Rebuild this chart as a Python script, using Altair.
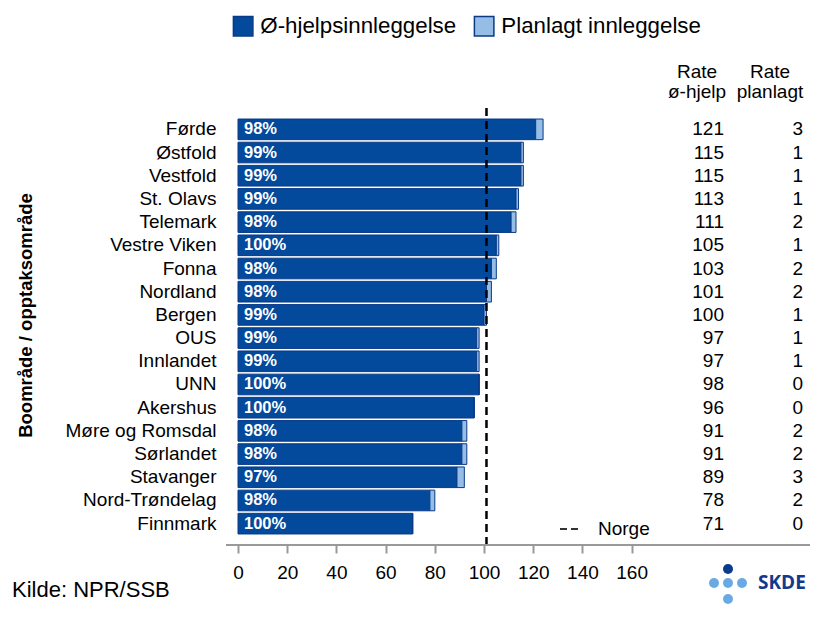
import altair as alt
import pandas as pd

# ---- data ----
areas = ["Førde", "Østfold", "Vestfold", "St. Olavs", "Telemark", "Vestre Viken",
         "Fonna", "Nordland", "Bergen", "OUS", "Innlandet", "UNN", "Akershus",
         "Møre og Romsdal", "Sørlandet", "Stavanger", "Nord-Trøndelag", "Finnmark"]
rate_akutt = [121, 115, 115, 113, 111, 105, 103, 101, 100, 97, 97, 98, 96, 91, 91, 89, 78, 71]
rate_plan = [3, 1, 1, 1, 2, 1, 2, 2, 1, 1, 1, 0, 0, 2, 2, 3, 2, 0]
andel = ["98%", "99%", "99%", "99%", "98%", "100%", "98%", "98%", "99%", "99%",
         "99%", "100%", "100%", "98%", "98%", "97%", "98%", "100%"]
norge = 101
types = ["Ø-hjelpsinnleggelse", "Planlagt innleggelse"]
tick_values = [0, 20, 40, 60, 80, 100, 120, 140, 160]

DARK = "#03499c"
LIGHT = "#95bde6"
EDGE = "#0a3a86"
FONT = "Liberation Sans"

wide = pd.DataFrame({"area": areas, "akutt": rate_akutt, "plan": rate_plan, "andel": andel})
long = pd.concat([
    pd.DataFrame({"area": areas, "type": types[0], "value": rate_akutt, "ord": 0}),
    pd.DataFrame({"area": areas, "type": types[1], "value": rate_plan, "ord": 1}),
], ignore_index=True)

W, H = 572, 437

yenc = alt.Y("area:N", sort=areas,
             scale=alt.Scale(paddingInner=0.11, paddingOuter=0.475),
             axis=alt.Axis(title="Boområde / opptaksområde", titleFont=FONT,
                           titleFontSize=18.5, titleFontWeight="bold", titleColor="black",
                           titleAngle=270, titleX=-213, titleY=207, titleAlign="center",
                           titleBaseline="middle", labelFont=FONT, labelFontSize=19,
                           labelColor="black", labelPadding=22, ticks=False, domain=False,
                           labelLimit=300))

bars = alt.Chart(long).mark_bar(stroke=EDGE, strokeWidth=1).encode(
    x=alt.X("value:Q", stack="zero", title=None,
            scale=alt.Scale(domain=[0, 232.5], nice=False, zero=True),
            axis=alt.Axis(values=tick_values, grid=False, domain=False, tickColor="#999999",
                          tickSize=8, tickWidth=2, labelFont=FONT, labelFontSize=19,
                          labelColor="black", labelPadding=10, format="d",
                          labelFlush=False)),
    y=yenc,
    color=alt.Color("type:N", scale=alt.Scale(domain=types, range=[DARK, LIGHT]),
                    legend=alt.Legend(title=None, orient="none", legendX=-6, legendY=-93,
                                      direction="horizontal", symbolType="square",
                                      symbolSize=380, symbolStrokeColor=EDGE,
                                      symbolStrokeWidth=1.5, symbolOpacity=1,
                                      labelFont=FONT, labelFontSize=22.3, labelColor="black",
                                      labelOffset=6, columnPadding=14, padding=0,
                                      labelLimit=500)),
    order=alt.Order("ord:Q", sort="ascending"),
)

ysimple = alt.Y("area:N", sort=areas)

pct = alt.Chart(wide).mark_text(align="left", baseline="middle", color="white",
                                fontWeight="bold", fontSize=16.5, font=FONT).encode(
    x=alt.value(6), y=ysimple, text="andel:N")

col1 = alt.Chart(wide).mark_text(align="right", baseline="middle", color="black",
                                 fontSize=19, font=FONT).encode(
    x=alt.value(486), y=ysimple, text=alt.Text("akutt:Q", format="d"))
col2 = alt.Chart(wide).mark_text(align="right", baseline="middle", color="black",
                                 fontSize=19, font=FONT).encode(
    x=alt.value(565), y=ysimple, text=alt.Text("plan:Q", format="d"))

norge_line = alt.Chart(pd.DataFrame({"norge": [norge]})).mark_rule(
    color="black", strokeDash=[8, 5], strokeWidth=2.5).encode(x="norge:Q")


def label(text, x, y, size=19, align="center", baseline="alphabetic", weight="normal",
          color="black", font=FONT):
    return alt.Chart(pd.DataFrame({"t": [text]})).mark_text(
        align=align, baseline=baseline, fontSize=size, fontWeight=weight,
        color=color, font=font).encode(x=alt.value(x), y=alt.value(y), text="t:N")


def dot(x, y, color):
    return alt.Chart(pd.DataFrame({"t": [0]})).mark_circle(
        size=100, color=color, opacity=1).encode(x=alt.value(x), y=alt.value(y))


baseline_rule = alt.Chart(pd.DataFrame({"t": [0]})).mark_rule(
    color="#999999", strokeWidth=2).encode(
    x=alt.value(-12), x2=alt.value(W), y=alt.value(H))

norge_key = alt.Chart(pd.DataFrame({"t": [0]})).mark_rule(
    color="#333333", strokeWidth=2, strokeDash=[7, 4]).encode(
    x=alt.value(322), x2=alt.value(342), y=alt.value(421))

layers = [
    bars, pct, col1, col2, norge_line, baseline_rule, norge_key,
    label("Norge", 360, 421, baseline="middle", align="left"),
    label("Rate", 459, -30),
    label("ø-hjelp", 459, -10),
    label("Rate", 532, -30),
    label("planlagt", 532, -10),
    label("Kilde: NPR/SSB", -226, 489, size=22, align="left"),
    dot(490, 461, "#0b3b8f"),
    dot(476, 475, "#6aaae4"),
    dot(490, 475, "#6aaae4"),
    dot(504, 475, "#6aaae4"),
    dot(490, 491, "#6aaae4"),
    label("SKDE", 520, 475, size=19, align="left", baseline="middle", weight="bold",
          color="#13398d", font="Open Sans"),
]

chart = alt.layer(*layers).properties(
    width=W, height=H,
    autosize=alt.AutoSizeParams(type="none"),
    padding={"left": 230, "top": 100, "right": 6, "bottom": 64},
).configure_view(stroke=None)

chart.save("out.html", embed_options={"renderer": "svg", "actions": False})
